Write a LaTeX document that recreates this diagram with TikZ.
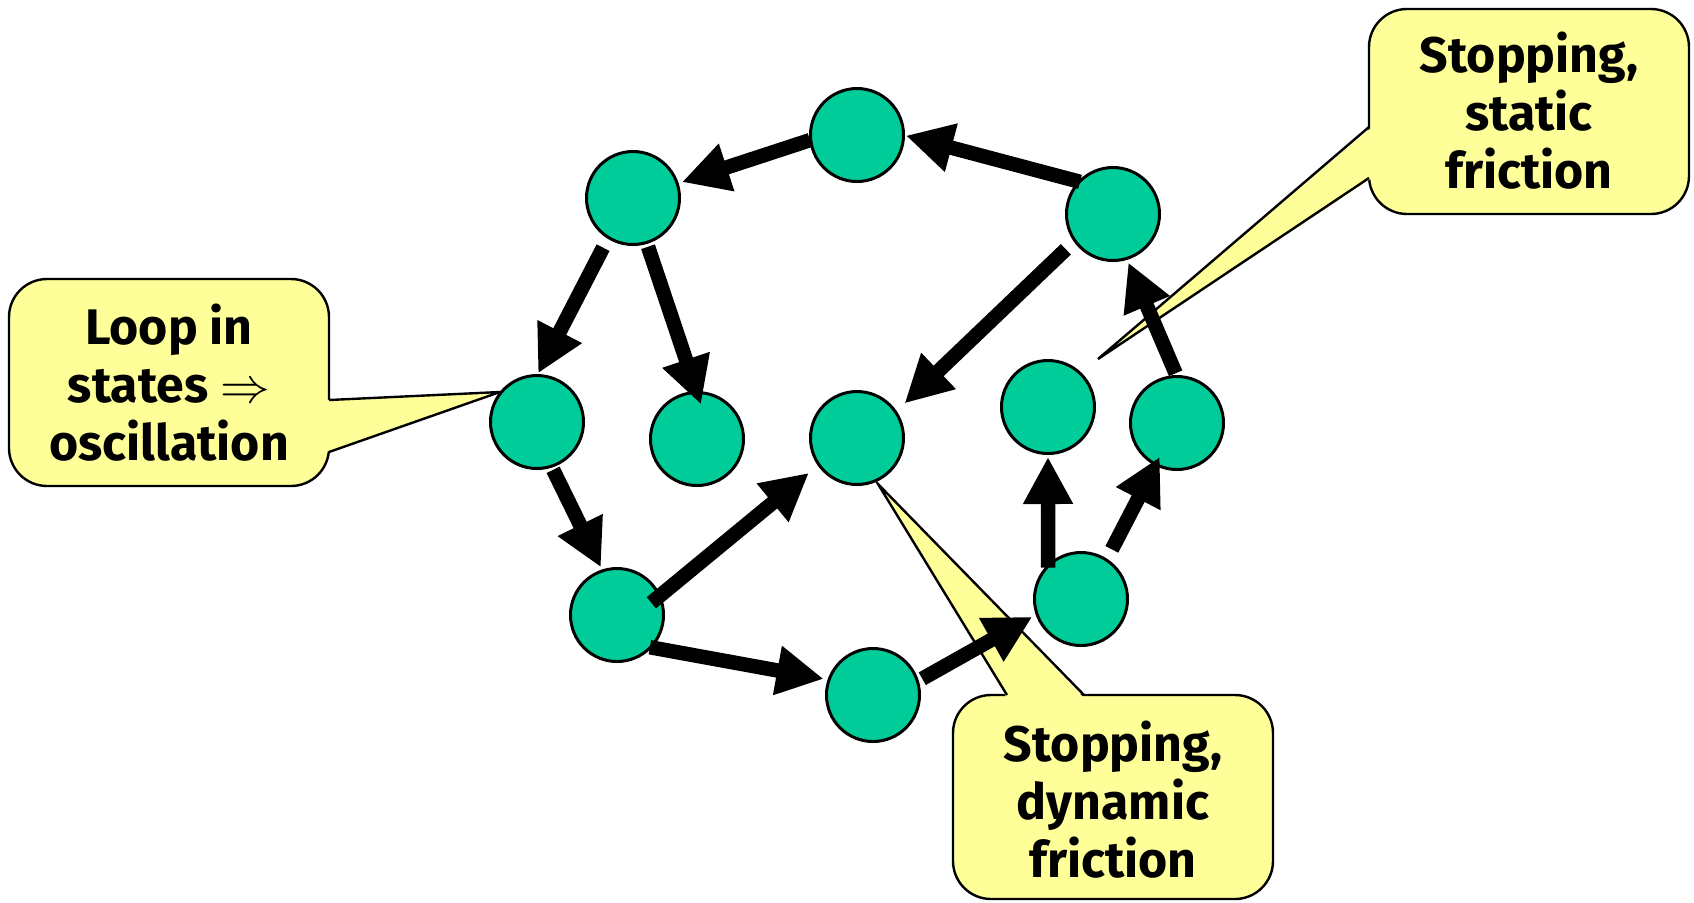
\documentclass[tikz,border=0pt]{standalone}
\usepackage{fontspec}
\setmainfont{Fira Sans}
\usetikzlibrary{arrows.meta}
\definecolor{stategreen}{RGB}{0,204,153}
\definecolor{noteyellow}{RGB}{255,255,153}

\begin{document}
\begin{tikzpicture}[x=0.5pt, y=-0.5pt, line join=miter,
  state/.style={circle, draw, line width=1.5pt, fill=stategreen,
    minimum size=46.5pt, inner sep=0pt, outer sep=0pt},
  trans/.style={-{Triangle[length=23.5pt,width=23.5pt]}, line width=7.25pt},
  notebox/.style={draw, line width=1.2pt, fill=noteyellow, rounded corners=19pt},
  notetail/.style={fill=noteyellow},
  noteedge/.style={line width=1.2pt},
  notetext/.style={font=\bfseries\fontsize{25}{29}\selectfont, align=center}]
  \useasboundingbox (0,0) rectangle (1694,902);

  % callouts
  \draw[notebox] (9,279) rectangle (329,486);
  \fill[notetail] (326,400) -- (500,392) -- (326,452) -- cycle;
  \draw[noteedge] (329,400) -- (500,392) -- (329,452);
  \node[notetext] (loop) at (169,383) {Loop in\\states $\Rightarrow$\\oscillation};

  \draw[notebox] (1369,9) rectangle (1689,214);
  \fill[notetail] (1372,127) -- (1098,359) -- (1372,178) -- cycle;
  \draw[noteedge] (1369,127) -- (1098,359) -- (1369,178);
  \node[notetext] (static) at (1529,111) {Stopping,\\static\\friction};

  \draw[notebox] (953,695) rectangle (1273,899);
  \fill[notetail] (1007,698) -- (878,484) -- (1084,698) -- cycle;
  \draw[noteedge] (1007,695) -- (878,484) -- (1084,695);
  \node[notetext] (dynamic) at (1113,800) {Stopping,\\dynamic\\friction};

  % states
  \node[state] (A) at (857,135) {};
  \node[state] (B) at (633,198) {};
  \node[state] (C) at (1113,214) {};
  \node[state] (D) at (537,422) {};
  \node[state] (E) at (697,439) {};
  \node[state] (F) at (857,438) {};
  \node[state] (G) at (1048,407) {};
  \node[state] (H) at (1177,423) {};
  \node[state] (I) at (617,615) {};
  \node[state] (J) at (873,695) {};
  \node[state] (K) at (1081,599) {};

  % transitions
  \draw[trans, shorten <=0.4pt, shorten >=2.5pt] (A.186) -- (B.18);
  \draw[trans, shorten <=-0.25pt, shorten >=1.25pt] (C.136) -- (A.0);
  \draw[trans, shorten <=5.75pt, shorten >=1.25pt] (B.238) -- (D.90);
  \draw[trans, shorten <=2.25pt, shorten >=-6.25pt] (B.287) -- (E.90);
  \draw[trans, shorten <=6.25pt, shorten >=6.25pt] (C.215) -- (F.34);
  \draw[trans, shorten <=2pt, shorten >=2pt] (D.288) -- (I.108);
  \draw[trans, shorten <=-5.25pt, shorten >=6.5pt] (I.24) -- (F.215);
  \draw[trans, shorten <=-0.25pt, shorten >=2.75pt] (I.316) -- (J.161);
  \draw[trans, shorten <=2.75pt, shorten >=2.75pt] (J.17) -- (K.199);
  \draw[trans, shorten <=-0.75pt, shorten >=1.75pt] (K.135) -- (G.270);
  \draw[trans, shorten <=6pt, shorten >=-4.25pt] (K.57) -- (H.243);
  \draw[trans, shorten <=1.75pt, shorten >=2.25pt] (H.90) -- (C.287);
\end{tikzpicture}
\end{document}
